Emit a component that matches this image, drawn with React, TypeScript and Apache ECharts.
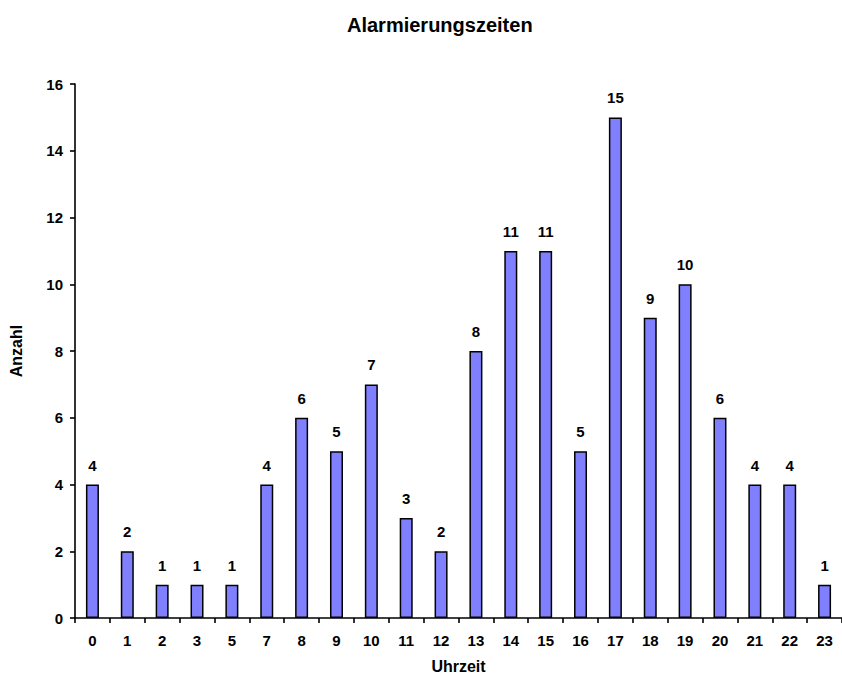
import React, { useEffect, useRef } from "react";
import * as echarts from "echarts";

const categories = ["0", "1", "2", "3", "5", "7", "8", "9", "10", "11", "12", "13", "14", "15", "16", "17", "18", "19", "20", "21", "22", "23"];
const values = [4, 2, 1, 1, 1, 4, 6, 5, 7, 3, 2, 8, 11, 11, 5, 15, 9, 10, 6, 4, 4, 1];
const titleText = "Alarmierungszeiten";
const xName = "Uhrzeit";
const yName = "Anzahl";

const FONT = "'Liberation Sans', Arial, sans-serif";

export default function App() {
  const ref = useRef<HTMLDivElement>(null);
  useEffect(() => {
    if (!ref.current) return;
    const chart = echarts.init(ref.current, null, { renderer: "svg" });
    chart.setOption({
      animation: false,
      backgroundColor: "#ffffff",
      title: {
        text: titleText,
        left: 342,
        top: 10,
        textStyle: { fontFamily: FONT, fontWeight: "bold", fontSize: 20, color: "#000" },
      },
      grid: { left: 69, right: -2, top: 84, bottom: 62, containLabel: false },
      xAxis: {
        type: "category",
        data: categories,
        name: xName,
        nameLocation: "middle",
        nameGap: 40,
        nameTextStyle: { fontFamily: FONT, fontWeight: "bold", fontSize: 16, color: "#000" },
        axisLine: { lineStyle: { color: "#000", width: 1.6 } },
        axisTick: { show: true, length: 5, inside: false, alignWithLabel: false, lineStyle: { color: "#000", width: 1.6 } },
        axisLabel: { fontFamily: FONT, fontWeight: "bold", fontSize: 15, color: "#000", margin: 15, interval: 0 },
        splitLine: { show: false },
      },
      yAxis: {
        type: "value",
        min: 0,
        max: 16,
        interval: 2,
        name: yName,
        nameLocation: "middle",
        nameGap: 51,
        nameRotate: 90,
        nameTextStyle: { fontFamily: FONT, fontWeight: "bold", fontSize: 16, color: "#000" },
        axisLine: { show: true, lineStyle: { color: "#000", width: 1.6 } },
        axisTick: { show: true, length: 5, lineStyle: { color: "#000", width: 1.6 } },
        axisLabel: { fontFamily: FONT, fontWeight: "bold", fontSize: 15, color: "#000", margin: 12 },
        splitLine: { show: false },
      },
      series: [
        {
          type: "bar",
          data: values,
          barWidth: 13,
          itemStyle: { color: "#8080FF", borderColor: "#000", borderWidth: 1.5 },
          label: {
            show: true,
            position: "top",
            distance: 12,
            fontFamily: FONT,
            fontWeight: "bold",
            fontSize: 15,
            color: "#000",
          },
        },
      ],
    });
    return () => chart.dispose();
  }, []);
  return (
    <div
      ref={ref}
      style={{ position: "absolute", left: 0, top: 0, width: 842, height: 680, background: "#fff" }}
    />
  );
}
